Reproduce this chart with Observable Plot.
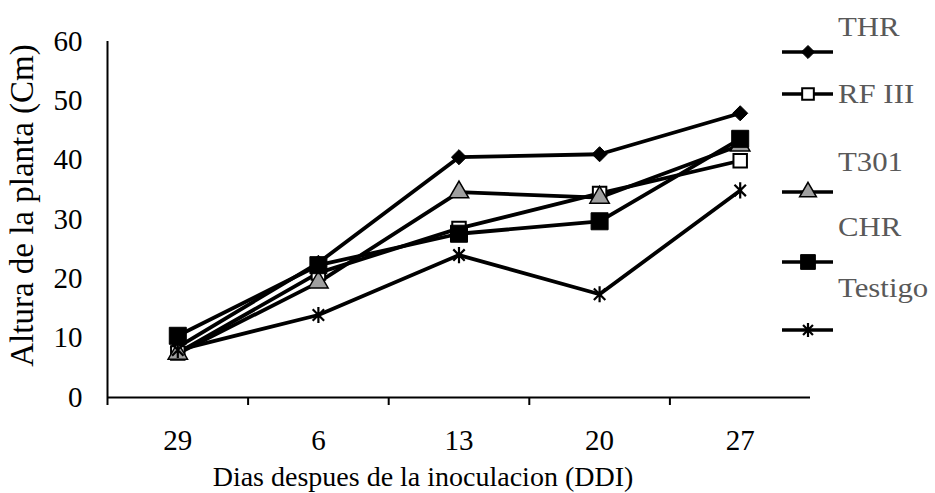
<!DOCTYPE html>
<html><head><meta charset="utf-8">
<script src="https://cdn.jsdelivr.net/npm/d3@7"></script>
<script src="https://cdn.jsdelivr.net/npm/@observablehq/plot@0.6"></script>
<style>
body{margin:0;background:#fff;}
#wrap{position:relative;width:935px;height:493px;font-family:"Liberation Serif","Times New Roman",serif;}
#wrap svg{overflow:visible;}
.lab{position:absolute;color:#595959;font-size:28px;line-height:1;white-space:nowrap;transform:scaleX(1.1);transform-origin:left center;}
</style></head><body><div id="wrap"></div>
<script>
// ---- data ----
const days = ["29", "6", "13", "20", "27"];
const seriesNames = ["THR", "RF III", "T301", "CHR", "Testigo"];
const thr = [8.5, 22.7, 40.5, 41.0, 47.9];
const rf3 = [7.5, 21.0, 28.5, 34.4, 39.9];
const t301 = [7.4, 19.4, 34.6, 33.7, 42.5];
const chr = [10.4, 22.3, 27.6, 29.7, 43.6];
const testigo = [8.0, 13.9, 24.0, 17.4, 34.9];
const yTicks = [0, 10, 20, 30, 40, 50, 60];
const xTitle = "Dias despues de la inoculacion (DDI)";
const yTitle = "Altura de la planta (Cm)";

// Excel-style star marker: an X plus a vertical bar
const excelStar = {
  draw(context, size) {
    const r = Math.sqrt(size) * 0.6;
    const d = r * Math.SQRT1_2;
    context.moveTo(0, -r); context.lineTo(0, r);
    context.moveTo(-d, -d); context.lineTo(d, d);
    context.moveTo(-d, d); context.lineTo(d, -d);
  }
};

const values = [thr, rf3, t301, chr, testigo];
const styles = [
  {symbol: d3.symbolDiamond2, r: 6.8, fill: "#000", stroke: "#000", sw: 1},
  {symbol: d3.symbolSquare, r: 7.6, fill: "#fff", stroke: "#000", sw: 2},
  {symbol: d3.symbolTriangle, r: 7.2, fill: "#a0a0a0", stroke: "#000", sw: 1.5},
  {symbol: d3.symbolSquare, r: 9.6, fill: "#000", stroke: "#000", sw: 1},
  {symbol: excelStar, r: 7.6, fill: "none", stroke: "#000", sw: 2.2}
];

const rows = [];
seriesNames.forEach((s, k) => values[k].forEach((v, i) => rows.push({serie: s, k, i, day: days[i], v})));

const font = '"Liberation Serif","Times New Roman",serif';
const marks = [
  Plot.ruleY([0], {stroke: "#000", strokeWidth: 2}),
  Plot.ruleX([-0.5], {stroke: "#000", strokeWidth: 2}),
  Plot.axisX({ticks: d3.range(days.length).map(i => i - 0.5), tickFormat: () => "", tickSize: 8, strokeWidth: 2, label: null}),
  Plot.text(days, {x: (d, i) => i, text: d => d, frameAnchor: "bottom", dy: 43, lineAnchor: "middle", fontSize: 29, fill: "#000"}),
  Plot.text(yTicks, {y: d => d, text: d => String(d), frameAnchor: "left", dx: -25, textAnchor: "end", lineAnchor: "middle", fontSize: 29, fill: "#000"}),
  Plot.text([xTitle], {frameAnchor: "bottom", text: d => d, dx: -36, dy: 80, lineAnchor: "middle", fontSize: 28, fill: "#000"}),
  Plot.text([yTitle], {frameAnchor: "left", text: d => d, rotate: -90, dx: -85, dy: -14, lineAnchor: "middle", textAnchor: "middle", fontSize: 33, fill: "#000"})
];
seriesNames.forEach((s, k) => {
  const d = rows.filter(r => r.k === k);
  marks.push(Plot.line(d, {x: "i", y: "v", stroke: "#000", strokeWidth: 3.8, strokeLinejoin: "round"}));
});
seriesNames.forEach((s, k) => {
  const d = rows.filter(r => r.k === k);
  const st = styles[k];
  marks.push(Plot.dot(d, {x: "i", y: "v", symbol: () => st.symbol, r: st.r, fill: st.fill, stroke: st.stroke, strokeWidth: st.sw}));
});

const chart = Plot.plot({
  width: 935, height: 493,
  marginLeft: 107, marginRight: 125, marginTop: 41, marginBottom: 96,
  style: {fontFamily: font, fontSize: "28px", color: "#000", background: "#fff"},
  x: {type: "linear", domain: [-0.5, days.length - 0.5], label: null, axis: null},
  y: {domain: [0, 60], label: null, axis: null},
  marks
});
const wrap = document.getElementById("wrap");
wrap.appendChild(chart);

// ---- legend ----
const legendLayout = [
  {labelX: 838, labelY: 27, swY: 52},
  {labelX: 838, labelY: 94, swY: 94},
  {labelX: 838, labelY: 162, swY: 192},
  {labelX: 838, labelY: 227, swY: 262},
  {labelX: 838, labelY: 288, swY: 330}
];
const lsvg = d3.select(wrap).append("svg").attr("width", 935).attr("height", 493)
  .style("position", "absolute").style("left", 0).style("top", 0).style("pointer-events", "none");
seriesNames.forEach((s, k) => {
  const L = legendLayout[k], st = styles[k];
  lsvg.append("line").attr("x1", 782).attr("x2", 833).attr("y1", L.swY).attr("y2", L.swY).attr("stroke", "#000").attr("stroke-width", 3.5);
  lsvg.append("path").attr("transform", `translate(808,${L.swY})`)
    .attr("d", d3.symbol(st.symbol, Math.PI * st.r * st.r * 0.75)())
    .attr("fill", st.fill).attr("stroke", st.stroke).attr("stroke-width", st.sw);
  const div = document.createElement("div");
  div.className = "lab";
  div.textContent = s;
  div.style.left = L.labelX + "px";
  div.style.top = (L.labelY - 14) + "px";
  wrap.appendChild(div);
});
</script></body></html>
